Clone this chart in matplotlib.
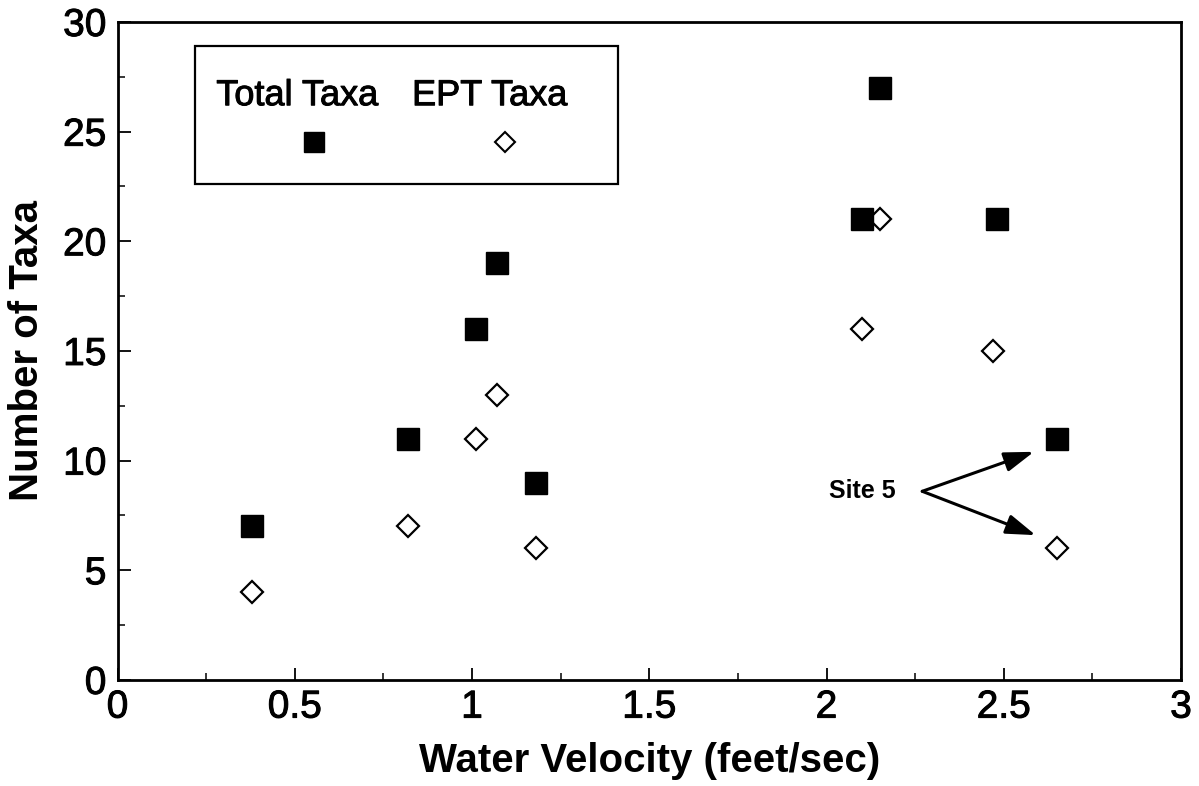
import matplotlib
matplotlib.use("Agg")
import matplotlib.pyplot as plt
import matplotlib.patheffects as pe
from matplotlib.patches import Rectangle
from matplotlib.ticker import MultipleLocator

plt.rcParams["font.family"] = ["Liberation Sans", "DejaVu Sans"]

# Water velocity (feet/sec) at each site and the taxa counts found there
velocity_total = [0.38, 0.82, 1.01, 1.07, 1.18, 2.10, 2.15, 2.48, 2.65]
total_taxa = [7, 11, 16, 19, 9, 21, 27, 21, 11]
velocity_ept = [0.38, 0.82, 1.01, 1.07, 1.18, 2.10, 2.15, 2.47, 2.65]
ept_taxa = [4, 7, 11, 13, 6, 16, 21, 15, 6]

site5_velocity = 2.65
site5_total = 11
site5_ept = 6

# slightly heavier strokes for the regular-weight text
heavy = [pe.withStroke(linewidth=0.7, foreground="black")]

fig = plt.figure(figsize=(11.99, 7.86), dpi=100)
ax = fig.add_axes([0.098, 0.135, 0.887, 0.837])

ax.plot(velocity_ept, ept_taxa, linestyle="none", marker="D", markersize=11,
        markerfacecolor="white", markeredgecolor="black", markeredgewidth=1.6, zorder=3)
ax.plot(velocity_total, total_taxa, linestyle="none", marker="s", markersize=16.5,
        markerfacecolor="black", markeredgecolor="black", zorder=4)

ax.set_xlim(0, 3)
ax.set_ylim(0, 30)
ax.xaxis.set_major_locator(MultipleLocator(0.5))
ax.xaxis.set_minor_locator(MultipleLocator(0.25))
ax.yaxis.set_major_locator(MultipleLocator(5))
ax.yaxis.set_minor_locator(MultipleLocator(2.5))
ax.set_xticks([0, 0.5, 1, 1.5, 2, 2.5, 3])
ax.set_xticklabels(["0", "0.5", "1", "1.5", "2", "2.5", "3"])
ax.tick_params(which="major", direction="in", length=9, width=1.3, labelsize=28, pad=7)
ax.tick_params(axis="y", which="major", pad=8)
ax.tick_params(which="minor", direction="in", length=5, width=1.1)
for lbl in ax.get_xticklabels() + ax.get_yticklabels():
    lbl.set_path_effects(heavy)
for s in ax.spines.values():
    s.set_linewidth(2)

ax.set_xlabel("Water Velocity (feet/sec)", fontsize=29, fontweight="bold", labelpad=12)
ax.set_ylabel("Number of Taxa", fontsize=29, fontweight="bold", labelpad=12)

# legend box with labels over their markers
ax.add_patch(Rectangle((0.0724, 0.754), 0.398, 0.21, transform=ax.transAxes,
                       facecolor="white", edgecolor="black", linewidth=1.6, zorder=5))
ax.text(0.169, 0.888, "Total Taxa", transform=ax.transAxes, fontsize=26,
        ha="center", va="center", zorder=6, path_effects=heavy)
ax.text(0.350, 0.888, "EPT Taxa", transform=ax.transAxes, fontsize=26,
        ha="center", va="center", zorder=6, path_effects=heavy)
ax.plot([0.185], [0.818], transform=ax.transAxes, marker="s", markersize=15,
        color="black", zorder=6)
ax.plot([0.364], [0.818], transform=ax.transAxes, marker="D", markersize=10,
        markerfacecolor="white", markeredgecolor="black", markeredgewidth=1.5, zorder=6)

# Site 5 callout
ax.text(2.10, 8.6, "Site 5", fontsize=18, fontweight="bold", ha="center", va="center")
arrow = dict(arrowstyle="-|>,head_length=1.8,head_width=0.6", color="black",
             lw=2.2, shrinkA=0, shrinkB=0)
ax.annotate("", xy=(site5_velocity - 0.065, site5_total - 0.6), xytext=(2.27, 8.6),
            arrowprops=arrow)
ax.annotate("", xy=(site5_velocity - 0.06, site5_ept + 0.6), xytext=(2.27, 8.6),
            arrowprops=arrow)

fig.savefig("out.png", dpi=100)
